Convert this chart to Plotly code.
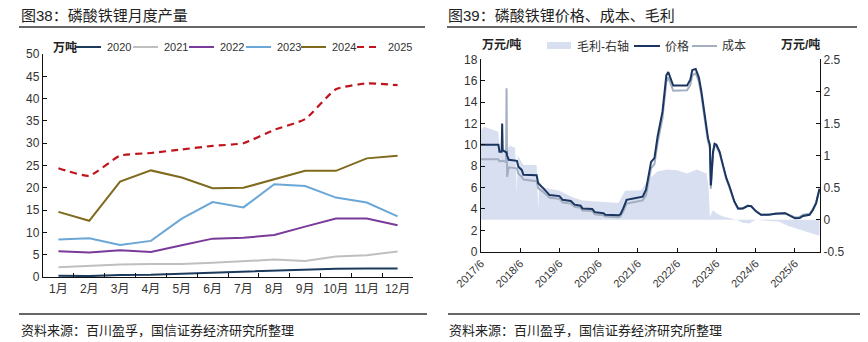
import plotly.graph_objects as go

W, H = 868, 342
def px(x): return x / W
def py(y): return 1 - y / H

FONT = "Liberation Sans, Arial, Noto Sans CJK SC, sans-serif"
TXT = "#333333"

# ---------------- left chart data ----------------
months = ["1月", "2月", "3月", "4月", "5月", "6月", "7月", "8月", "9月", "10月", "11月", "12月"]
y2020 = [0.3, 0.2, 0.45, 0.5, 0.75, 1.0, 1.1, 1.4, 1.6, 1.85, 1.9, 1.9]
y2021 = [2.2, 2.5, 2.8, 2.9, 2.9, 3.2, 3.5, 3.9, 3.6, 4.6, 4.9, 5.7]
y2022 = [5.75, 5.5, 6.0, 5.6, 7.1, 8.6, 8.8, 9.4, 11.3, 13.1, 13.1, 11.6]
y2023 = [8.4, 8.7, 7.2, 8.1, 13.1, 16.8, 15.6, 20.8, 20.4, 17.8, 16.7, 13.6]
y2024 = [14.6, 12.6, 21.4, 23.9, 22.3, 19.9, 20.0, 21.9, 23.8, 23.8, 26.6, 27.2]
y2025 = [24.4, 22.7, 27.2, 27.8, 28.6, 29.4, 30.0, 33.0, 35.4, 42.1, 43.4, 43.0]
years = ["2020", "2021", "2022", "2023", "2024", "2025"]
year_colors = ["#1B3A5C", "#BFBFBF", "#7A3A9A", "#6AA7D6", "#7F6A1E", "#C0141C"]

# ---------------- right chart data ----------------
pc_dates = ["2017-06-01", "2017-11-10", "2017-11-20", "2017-12-10", "2017-12-15", "2017-12-20",
            "2018-01-20", "2018-01-25", "2018-01-30", "2018-02-15", "2018-05-01", "2018-05-15",
            "2018-06-15", "2018-07-01", "2018-11-01", "2018-11-15", "2019-01-01", "2019-02-01",
            "2019-03-01", "2019-06-01", "2019-07-01", "2019-09-15", "2019-10-20", "2019-12-15",
            "2020-01-01", "2020-04-01", "2020-04-25", "2020-07-15", "2020-08-01", "2020-12-01",
            "2020-12-20", "2021-01-15", "2021-02-15", "2021-05-01", "2021-07-15", "2021-08-15",
            "2021-09-01", "2021-10-01", "2021-11-01", "2021-12-01", "2022-01-15", "2022-02-20",
            "2022-03-10", "2022-04-10", "2022-04-25", "2022-09-01", "2022-10-01", "2022-10-20",
            "2022-11-20", "2022-12-20", "2023-01-12", "2023-02-12", "2023-03-15", "2023-04-01",
            "2023-04-10", "2023-05-01", "2023-05-15", "2023-06-01", "2023-07-01", "2023-08-01",
            "2023-09-01", "2023-10-01", "2023-11-15", "2023-12-20", "2024-02-01", "2024-03-20",
            "2024-04-20", "2024-06-01", "2024-07-20", "2024-10-01", "2024-12-01", "2025-03-01",
            "2025-05-01", "2025-06-01", "2025-07-15", "2025-08-15", "2025-10-15", "2025-11-15",
            "2025-12-15", "2026-01-15"]
price = [10.0, 10.0, 9.35, 9.35, 12.0, 9.5,
         9.3, 9.3, 9.0, 8.6, 8.5, 7.95,
         7.65, 7.2, 7.15, 6.4, 5.95, 5.6,
         5.3, 5.2, 4.85, 4.75, 4.4, 4.3,
         4.05, 4.0, 3.7, 3.6, 3.45, 3.4,
         3.5, 4.05, 4.85, 5.0, 5.15, 5.8,
         6.9, 8.4, 8.75, 10.8, 13.1, 16.5,
         16.8, 16.05, 15.55, 15.55, 16.1, 17.0,
         17.1, 16.3, 15.0, 12.8, 10.6, 10.0,
         6.2, 9.4, 10.1, 10.0, 9.35, 8.1,
         6.9, 6.1, 4.7, 4.05, 4.05, 4.3,
         4.25, 3.8, 3.45, 3.45, 3.56, 3.6,
         3.3, 3.12, 3.15, 3.35, 3.45, 3.9,
         4.55, 5.9]
cost = [8.65, 8.65, 8.45, 8.5, 8.5, 8.5,
        8.4, 15.3, 7.0, 7.9, 7.8, 7.3,
        7.0, 6.75, 6.6, 5.95, 5.6, 5.3,
        5.05, 4.95, 4.6, 4.5, 4.2, 4.1,
        3.85, 3.8, 3.5, 3.4, 3.28, 3.22,
        3.3, 3.75, 4.5, 4.65, 4.8, 5.3,
        6.3, 7.8, 8.2, 10.2, 12.5, 15.9,
        16.3, 15.5, 15.05, 15.1, 15.6, 16.5,
        16.7, 15.9, 14.6, 12.4, 10.3, 9.7,
        5.9, 9.2, 9.9, 9.85, 9.2, 8.0,
        6.8, 6.0, 4.65, 4.0, 4.05, 4.3,
        4.25, 3.8, 3.45, 3.47, 3.58, 3.62,
        3.35, 3.2, 3.25, 3.45, 3.55, 4.0,
        4.6, 5.8]
m_dates = ["2017-06-01", "2017-07-01", "2017-11-10", "2017-11-20", "2018-01-20", "2018-03-01",
           "2018-04-15", "2018-05-01", "2018-05-10", "2018-07-01", "2018-11-01", "2018-11-15",
           "2018-11-25", "2019-01-01", "2019-06-01", "2019-10-01", "2020-01-01", "2020-06-01",
           "2020-12-01", "2021-02-01", "2021-07-01", "2021-09-01", "2021-12-01", "2022-03-01",
           "2022-06-01", "2022-09-01", "2022-12-01", "2023-03-01", "2023-03-20", "2023-04-01",
           "2023-05-01", "2023-06-01", "2023-08-01", "2023-12-01", "2024-02-01", "2024-04-01",
           "2024-06-01", "2024-10-01", "2025-01-01", "2025-04-01", "2025-07-01", "2025-10-01",
           "2026-01-15"]
margin = [1.40, 1.45, 1.37, 1.05, 1.10, 1.15,
          1.12, 0.40, 1.0, 0.85, 0.85, 0.15,
          0.6, 0.5, 0.45, 0.35, 0.30, 0.28,
          0.26, 0.45, 0.46, 0.62, 0.75, 0.78,
          0.77, 0.72, 0.78, 0.72, 0.5, 0.05,
          0.15, 0.1, 0.05, 0.0, -0.05, -0.06,
          0.0, -0.02, -0.03, -0.1, -0.15, -0.2,
          -0.25]
x_tick_vals = ["2017-06-01", "2018-06-01", "2019-06-01", "2020-06-01", "2021-06-01",
               "2022-06-01", "2023-06-01", "2024-06-01", "2025-06-01"]
x_tick_text = ["2017/6", "2018/6", "2019/6", "2020/6", "2021/6", "2022/6", "2023/6", "2024/6", "2025/6"]
right_tick_vals = [-0.5, 0, 0.5, 1, 1.5, 2, 2.5]
right_tick_text = ["-0.5", "0", "0.5", "1", "1.5", "2", "2.5"]

PRICE_C = "#1A3560"
COST_C = "#A3AFC0"
MARGIN_C = "#D8DFF0"

fig = go.Figure()

series = [y2020, y2021, y2022, y2023, y2024, y2025]
for name, vals, col in zip(years, series, year_colors):
    is25 = name == "2025"
    fig.add_trace(go.Scatter(
        x=months, y=vals, name=name, mode="lines", xaxis="x", yaxis="y",
        line=dict(color=col, width=2.2 if is25 else 2, dash="7px,5px" if is25 else "solid",
                  shape="spline" if is25 else "linear", smoothing=0.5),
        showlegend=False, hoverinfo="skip"))

# margin on the base (right-side) axis y2 so it is drawn underneath; price/cost on overlaying y3
fig.add_trace(go.Scatter(x=m_dates, y=margin, name="毛利-右轴", mode="lines", xaxis="x2", yaxis="y2",
                         fill="tozeroy", fillcolor=MARGIN_C, line=dict(width=0, color=MARGIN_C),
                         showlegend=False, hoverinfo="skip"))
fig.add_trace(go.Scatter(x=pc_dates, y=cost, name="成本", mode="lines", xaxis="x2", yaxis="y3",
                         line=dict(color=COST_C, width=2), showlegend=False, hoverinfo="skip"))
fig.add_trace(go.Scatter(x=pc_dates, y=price, name="价格", mode="lines", xaxis="x2", yaxis="y3",
                         line=dict(color=PRICE_C, width=2), showlegend=False, hoverinfo="skip"))

axis_common = dict(showline=True, linecolor="#111111", linewidth=1.3, showgrid=False, zeroline=False,
                   ticks="inside", ticklen=4, tickcolor="#111111", tickwidth=1.2,
                   tickfont=dict(family=FONT, size=12, color=TXT))

fig.update_layout(
    width=W, height=H, margin=dict(l=0, r=0, t=0, b=0),
    paper_bgcolor="white", plot_bgcolor="white", showlegend=False,
    font=dict(family=FONT, color=TXT),
    xaxis=dict(domain=[px(43), px(413)], anchor="y", type="category", range=[-0.5, 11.5],
               tickson="boundaries", tickangle=0, automargin=False, **axis_common),
    yaxis=dict(domain=[py(277), py(54)], anchor="x", range=[0, 50], dtick=5, automargin=False,
               **axis_common),
    xaxis2=dict(domain=[px(481), px(820)], anchor="y2", type="date",
                range=["2017-06-01", "2026-01-20"], tickmode="array",
                tickvals=x_tick_vals, ticktext=x_tick_text, tickangle=-45, automargin=False,
                **{**axis_common, "tickfont": dict(family=FONT, size=11, color=TXT)}),
    yaxis2=dict(domain=[py(251.7), py(59.3)], anchor="x2", side="right", range=[-0.5, 2.5],
                tickmode="array", tickvals=right_tick_vals, ticktext=right_tick_text,
                automargin=False, **axis_common),
    yaxis3=dict(overlaying="y2", anchor="x2", side="left", range=[0, 18], dtick=2,
                automargin=False, **axis_common),
)

shapes = []
annotations = []

def hline(x0, x1, y, color, width=1.3, dash="solid"):
    shapes.append(dict(type="line", xref="paper", yref="paper", x0=px(x0), x1=px(x1),
                       y0=py(y), y1=py(y), line=dict(color=color, width=width, dash=dash)))

def label(x, y, text, size=12, color=TXT, xanchor="left"):
    annotations.append(dict(xref="paper", yref="paper", x=px(x), y=py(y), text=text, showarrow=False,
                            xanchor=xanchor, yanchor="middle", font=dict(family=FONT, size=size, color=color)))

# title rules & footers
hline(19, 425, 27, "#333333", 1.3)
hline(447, 857, 27, "#333333", 1.3)
hline(19, 427, 314, "#333333", 1.3)
hline(448, 860, 314, "#333333", 1.3)
label(19, 15, "图38：磷酸铁锂月度产量", size=15, color="#222222")
label(446, 15, "图39：磷酸铁锂价格、成本、毛利", size=15, color="#222222")
label(19, 330, "资料来源：百川盈孚，国信证券经济研究所整理", size=13, color="#222222")
label(447, 330, "资料来源：百川盈孚，国信证券经济研究所整理", size=13, color="#222222")

# left legend
label(51, 47, "<b>万吨</b>", size=12, color="#222222")
leg_x = [76, 133, 189, 246, 301, 357]
for lx, name, col in zip(leg_x, years, year_colors):
    if name == "2025":
        hline(lx, lx + 21, 47, col, 2.2, "7px,5px")
    else:
        hline(lx, lx + 25, 47, col, 2)
    label(lx + 29, 47, name, size=11)

# right legend
label(480, 45, "<b>万元/吨</b>", size=12, color="#222222")
label(779, 45, "<b>万元/吨</b>", size=12, color="#222222")
shapes.append(dict(type="rect", xref="paper", yref="paper", x0=px(547), x1=px(571), y0=py(49), y1=py(42),
                   fillcolor=MARGIN_C, line=dict(width=0)))
label(575, 46, "毛利-右轴", size=12)
hline(634, 660, 46, PRICE_C, 2)
label(663, 46, "价格", size=12)
hline(692, 717, 46, COST_C, 2)
label(720, 46, "成本", size=12)

fig.update_layout(shapes=shapes, annotations=annotations)
fig.write_html("out.html")
